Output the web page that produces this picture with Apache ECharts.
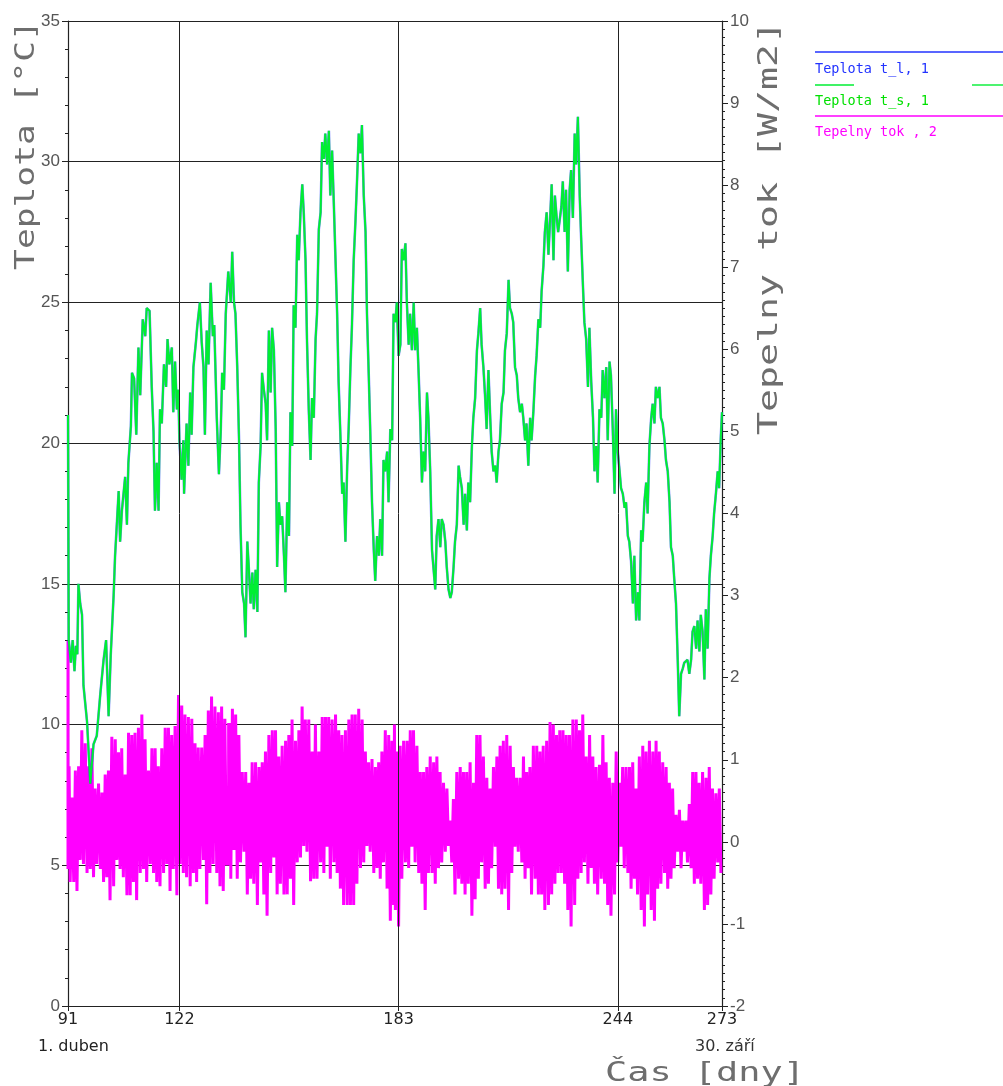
<!DOCTYPE html>
<html><head><meta charset="utf-8">
<script src="https://cdn.jsdelivr.net/npm/echarts@6/dist/echarts.min.js"></script>
<style>html,body{margin:0;padding:0;background:#fff}#c{width:1003px;height:1086px}</style>
</head><body><div id="c"></div>
<script>
// ---- Temperature (day of year, °C) ----
const tempDays = [
91.0,91.2,91.8,92.3,92.8,93.2,93.6,93.9,94.4,94.9,
95.3,96.3,97.2,98.1,99.0,100.0,100.9,101.6,102.3,102.9,
103.7,104.1,105.1,105.5,106.0,106.9,107.4,107.8,108.5,108.8,
109.4,110.0,110.6,111.1,111.8,112.5,112.9,113.7,114.3,114.8,
115.2,115.7,116.2,116.6,117.1,117.7,118.3,118.7,119.2,119.9,
120.3,120.8,121.3,121.7,122.0,122.6,123.1,123.3,124.0,124.5,
125.0,125.4,125.9,126.6,127.0,127.7,128.2,128.7,129.1,129.6,
130.1,130.7,131.3,131.7,132.4,133.0,133.5,133.9,134.4,134.9,
135.6,
136.3,136.7,137.2,137.6,138.1,138.6,139.0,139.5,140.0,140.4,
140.9,141.3,141.8,142.3,142.7,143.2,143.7,144.1,144.6,145.0,
145.5,146.0,146.4,146.9,147.4,147.8,148.3,148.8,149.2,149.7,
150.1,150.6,151.1,151.5,152.0,152.5,152.9,153.4,153.8,154.3,
154.8,155.2,155.7,156.2,156.6,157.1,157.5,158.0,158.5,158.9,
159.4,159.9,160.3,160.8,161.3,161.7,162.2,162.6,163.1,163.6,
164.0,164.5,165.0,165.4,165.9,166.3,166.8,167.3,167.7,168.2,
168.7,169.1,169.6,170.0,170.5,171.0,171.4,171.9,172.4,172.8,
173.3,173.8,174.2,174.7,175.1,175.6,176.1,176.5,177.0,177.5,
177.9,178.4,178.8,179.3,179.8,180.2,180.7,181.2,181.6,
182.1,182.5,183.0,183.5,183.9,184.4,184.9,185.3,185.8,186.2,
186.7,187.2,187.6,188.1,188.6,189.0,189.5,189.9,190.4,190.9,
191.3,191.8,192.3,192.7,193.2,193.6,194.1,194.6,195.0,195.5,
196.0,196.4,196.9,197.4,197.8,198.3,198.7,199.2,199.7,200.1,
200.6,201.1,201.5,202.0,202.4,202.9,203.4,203.8,204.3,204.8,
205.2,205.7,206.1,206.6,207.1,207.5,208.0,208.5,208.9,209.4,
209.9,210.3,210.8,211.2,211.7,212.2,212.6,213.1,213.6,214.0,
214.5,214.9,215.4,215.9,216.3,216.8,217.3,217.7,218.2,218.6,
219.1,219.6,220.0,220.5,221.0,221.4,221.9,222.4,222.8,223.3,
223.7,224.2,224.7,225.1,225.6,226.1,226.5,227.0,227.4,
227.8,228.3,228.7,229.2,229.6,230.1,230.6,231.0,231.5,232.0,
232.4,232.9,233.4,233.8,234.3,234.7,235.2,235.7,236.1,236.6,
237.1,237.5,238.0,238.4,238.9,239.4,239.8,240.3,240.8,241.2,
241.7,242.1,242.6,243.1,243.5,244.0,244.5,244.9,245.4,245.9,
246.3,246.8,247.2,247.7,248.2,248.6,249.1,249.6,250.0,250.5,
250.9,251.4,251.9,252.3,252.8,253.3,253.7,254.2,254.6,255.1,
255.6,256.0,256.5,257.0,257.4,257.9,258.4,258.8,259.3,259.7,
260.2,260.7,261.1,261.6,262.1,262.5,263.0,263.4,263.9,264.4,
264.8,265.3,265.8,266.2,266.7,267.1,267.6,268.1,268.5,269.0,
269.5,269.9,270.4,270.8,271.3,271.8,272.2,272.7,273.0
];
const tempTl = [
21.0,13.0,12.2,13.0,11.9,12.8,12.5,15.0,14.3,13.9,
11.4,10.1,7.9,9.3,9.6,11.1,12.3,13.0,10.3,12.5,
14.6,16.0,18.3,16.5,17.6,18.8,17.1,19.3,20.6,22.5,
22.3,20.3,23.4,21.7,24.4,23.8,24.8,24.7,22.0,20.4,
17.6,19.3,17.6,21.2,20.7,22.8,22.0,23.7,22.8,23.4,
21.1,22.9,21.2,21.9,20.1,18.7,20.1,18.2,20.7,19.2,
21.8,20.3,22.7,23.6,24.2,25.0,23.6,22.7,20.3,24.0,
22.8,25.7,23.8,24.2,20.9,18.9,20.4,22.5,21.9,24.6,
26.1,
25.0,26.8,25.0,24.6,22.7,20.1,17.1,14.7,14.3,13.1,
16.5,15.6,14.3,15.4,14.1,15.5,14.0,18.6,19.9,22.5,
21.9,21.4,20.1,24.0,21.8,24.1,23.3,20.5,15.6,17.9,
17.1,17.4,16.0,14.7,17.9,16.7,21.1,19.9,24.9,24.1,
27.4,26.5,28.2,29.2,28.2,26.5,23.7,21.2,19.4,21.6,
20.9,23.7,24.6,27.6,28.2,30.7,30.1,31.0,29.9,31.1,
28.8,30.4,28.4,26.7,24.6,22.2,20.3,18.2,18.6,16.5,
19.2,20.5,22.7,24.1,26.5,27.9,29.2,31.0,30.3,31.3,
28.8,27.5,24.6,22.4,20.5,17.9,16.2,15.1,16.7,16.0,
17.3,16.0,19.4,19.0,19.7,17.9,20.5,20.1,24.6,
24.3,25.0,23.1,23.5,26.9,26.5,27.1,25.0,23.5,24.6,
23.3,25.0,23.3,24.1,22.4,20.9,18.6,19.7,19.0,21.8,
20.9,19.0,16.2,16.2,14.8,16.7,17.3,16.3,17.3,17.1,
16.5,15.6,14.8,14.5,14.7,15.6,16.5,17.1,19.2,18.8,
18.4,17.1,18.2,16.9,18.6,17.9,19.9,20.9,21.6,23.3,
23.9,24.8,23.5,22.7,21.6,20.5,22.6,20.9,19.7,19.0,
19.2,18.6,19.7,20.1,21.4,21.8,23.3,23.9,25.8,24.8,
24.6,24.3,22.7,22.4,21.6,21.1,21.4,20.9,20.1,20.7,
19.2,20.9,20.1,21.1,22.4,23.1,24.4,24.1,25.4,26.3,
27.5,28.2,26.7,27.8,29.2,26.5,28.8,28.0,27.5,
27.5,28.4,29.3,27.5,29.0,26.1,29.0,29.7,28.0,31.0,
29.9,31.6,28.8,27.3,25.6,24.3,23.7,22.0,24.1,22.2,
20.9,19.0,19.9,18.6,21.2,20.9,22.6,21.6,22.7,20.1,
22.9,22.4,20.5,18.2,21.2,19.7,19.0,18.4,18.2,17.7,
17.9,16.7,16.5,15.8,14.3,16.0,13.7,14.7,13.7,16.9,
16.5,17.9,18.6,17.5,19.9,20.9,21.4,20.7,22.0,21.6,
22.0,20.9,20.7,20.1,19.4,19.0,17.9,16.3,16.0,15.2,
14.3,12.2,10.3,11.8,12.0,12.2,12.2,12.3,11.8,12.3,
13.3,13.5,12.7,13.7,12.6,13.9,13.3,11.6,14.1,12.7,
15.2,16.0,16.7,17.5,18.2,19.0,18.4,20.3,21.1
];
// t_s follows t_l almost exactly in the picture (the two curves overlap)
const tempTs = tempTl;

// ---- Heat flux (W/m2): daytime high and night-time low per day ----
const fluxDays = [
91.0,91.6,92.6,93.5,94.4,95.3,96.3,97.2,98.1,99.0,
100.0,100.9,101.8,102.7,103.7,104.6,105.5,106.4,107.4,108.3,
109.2,110.1,111.1,112.0,112.9,113.9,114.8,115.7,116.6,117.6,
118.5,119.4,120.3,121.3,122.2,123.1,124.0,125.0,125.9,126.8,
127.7,128.7,129.6,130.5,131.4,132.4,133.3,134.2,135.1,
136.3,137.2,138.1,139.0,140.0,140.9,141.8,142.7,143.7,144.6,
145.5,146.4,147.4,148.3,149.2,150.1,151.1,152.0,152.9,153.8,
154.8,155.7,156.6,157.5,158.5,159.4,160.3,161.3,162.2,163.1,
164.0,165.0,165.9,166.8,167.7,168.7,169.6,170.5,171.4,172.4,
173.3,174.2,175.1,176.1,177.0,177.9,178.8,179.8,180.7,181.6,
182.1,183.0,183.9,184.9,185.8,186.7,187.6,188.6,189.5,190.4,
191.3,192.3,193.2,194.1,195.0,196.0,196.9,197.8,198.7,199.7,
200.6,201.5,202.4,203.4,204.3,205.2,206.1,207.1,208.0,208.9,
209.9,210.8,211.7,212.6,213.6,214.5,215.4,216.3,217.3,218.2,
219.1,220.0,221.0,221.9,222.8,223.7,224.7,225.6,226.5,227.4,
228.3,229.2,230.1,231.0,232.0,232.9,233.8,234.7,235.7,236.6,
237.5,238.4,239.4,240.3,241.2,242.1,243.1,244.0,244.9,245.8,
246.8,247.7,248.6,249.5,250.5,251.4,252.3,253.3,254.2,255.1,
256.0,257.0,257.9,258.8,259.7,260.7,261.6,262.5,263.4,264.4,
265.3,266.2,267.1,268.1,269.0,269.9,270.8,271.8,272.7
];
const fluxHigh = [
2.45,0.92,0.54,0.87,0.92,1.36,1.20,0.92,1.14,0.65,
0.71,0.60,0.82,0.87,1.28,1.25,1.09,1.14,0.82,1.33,
1.30,1.33,1.39,1.55,1.25,0.87,1.14,1.14,0.92,1.14,
1.39,1.39,1.30,1.41,1.79,1.66,1.55,1.52,1.50,1.20,
1.15,1.15,1.30,1.60,1.77,1.65,1.58,1.65,1.50,
1.43,1.62,1.55,1.30,0.85,0.85,0.72,0.97,0.97,0.91,
0.97,1.10,1.30,1.36,1.36,1.04,1.17,1.23,1.30,1.49,
1.23,1.36,1.65,1.49,1.49,1.10,1.43,1.10,1.52,1.52,
1.52,1.49,1.55,1.36,1.30,1.36,1.49,1.55,1.55,1.62,
1.49,1.10,0.97,1.01,0.91,0.97,1.10,1.36,1.30,1.23,
1.43,1.10,1.17,1.23,1.23,1.36,1.36,1.17,0.85,0.85,
0.91,1.04,0.97,1.04,0.85,0.72,0.65,0.26,0.52,0.85,
0.91,0.85,0.85,0.97,0.72,1.30,1.30,1.04,0.78,0.65,
0.91,1.04,1.17,1.23,1.30,1.17,0.91,0.78,0.78,1.04,
0.85,0.91,1.17,1.17,1.10,1.17,1.23,1.46,1.43,1.30,
1.36,1.36,1.30,1.30,1.49,1.49,1.36,1.55,1.04,1.30,
1.04,0.91,0.94,1.30,0.97,0.78,0.72,1.10,0.72,0.91,
0.91,0.91,0.97,0.65,1.04,1.17,1.10,1.23,1.10,1.23,
1.10,0.97,0.91,0.72,0.65,0.33,0.39,0.26,0.26,0.46,
0.85,0.85,0.72,0.85,0.78,0.91,0.65,0.59,0.65
];
const fluxLow = [
-0.33,-0.49,-0.49,-0.60,-0.22,-0.27,-0.38,-0.33,-0.43,-0.27,
-0.33,-0.49,-0.43,-0.71,-0.54,-0.22,-0.33,-0.43,-0.65,-0.65,
-0.49,-0.71,-0.38,-0.33,-0.49,-0.27,-0.38,-0.49,-0.54,-0.38,
-0.27,-0.60,-0.33,-0.65,-0.27,-0.38,-0.43,-0.54,-0.38,-0.49,
-0.33,-0.22,-0.76,-0.38,-0.27,-0.38,-0.54,-0.60,-0.27,
-0.45,-0.10,-0.45,-0.25,-0.12,-0.64,-0.45,-0.51,-0.77,-0.25,
-0.64,-0.90,-0.38,-0.19,-0.64,-0.51,-0.64,-0.64,-0.45,-0.77,
-0.25,-0.19,-0.05,-0.12,-0.48,-0.45,-0.45,-0.25,-0.38,-0.06,
-0.45,-0.25,-0.38,-0.57,-0.77,-0.77,-0.77,-0.77,-0.51,-0.32,
-0.25,-0.05,-0.12,-0.38,-0.32,-0.45,-0.25,-0.57,-0.96,-0.77,
-0.83,-1.03,-0.45,-0.25,-0.32,-0.06,-0.25,-0.38,-0.51,-0.83,
-0.38,-0.38,-0.51,-0.32,-0.25,-0.12,-0.05,-0.25,-0.64,-0.45,
-0.51,-0.64,-0.51,-0.90,-0.70,-0.45,-0.25,-0.57,-0.51,-0.32,
-0.06,-0.57,-0.64,-0.57,-0.83,-0.38,-0.06,-0.12,-0.25,-0.45,
-0.32,-0.64,-0.45,-0.64,-0.64,-0.83,-0.77,-0.64,-0.51,-0.38,
-0.38,-0.51,-0.83,-1.03,-0.77,-0.45,-0.38,-0.25,-0.51,-0.32,
-0.51,-0.64,-0.45,-0.51,-0.77,-0.90,-0.64,-0.25,-0.06,-0.32,
-0.38,-0.57,-0.45,-0.64,-0.83,-1.03,-0.64,-0.83,-0.96,-0.57,
-0.51,-0.38,-0.57,-0.45,-0.32,-0.12,-0.32,-0.12,-0.25,-0.32,
-0.51,-0.45,-0.51,-0.83,-0.77,-0.64,-0.45,-0.25,-0.38
];

// ---- Axes / texts ----
const xTickDays = [91, 122, 183, 244, 273];
const xGridDays = [122, 183, 244];
const xEndLabels = ['1. duben', '30. září'];
const seriesNames = ['Teplota t_l, 1', 'Teplota t_s, 1', 'Tepelny tok , 2'];
const leftAxisTitle = 'Teplota [°C]';
const rightAxisTitle = 'Tepelny tok [W/m2]';
const xAxisTitle = 'Čas [dny]';

const zip = (xs, ys) => xs.map((x, i) => [x, ys[i]]);
const fluxData = [];
fluxDays.forEach((d, i) => { fluxData.push([d, fluxHigh[i]]); fluxData.push([d, fluxLow[i]]); });

const C_BLUE = '#2233ff', C_GREEN = '#00ee33', C_MAG = '#ff00ff';
const titleFont = 'DejaVu Sans Mono';

const chart = echarts.init(document.getElementById('c'), null, {renderer: 'canvas'});
chart.setOption({
  animation: false,
  backgroundColor: '#fff',
  grid: {left: 68, right: 281, top: 21, bottom: 80, containLabel: false},
  xAxis: {
    type: 'value', min: 91, max: 273,
    axisLine: {show: true, lineStyle: {color: '#222', width: 1}},
    axisTick: {show: true, customValues: xTickDays, length: 5, lineStyle: {color: '#222'}},
    axisLabel: {customValues: xTickDays, color: '#222', fontSize: 16, fontFamily: 'DejaVu Sans', margin: 6},
    splitLine: {show: false}
  },
  yAxis: [
    {
      type: 'value', min: 0, max: 35, interval: 5, position: 'left',
      axisLine: {show: true, lineStyle: {color: '#222', width: 1.2}},
      axisTick: {show: true, length: 6, lineStyle: {color: '#222'}},
      minorTick: {show: true, splitNumber: 5, length: 3, lineStyle: {color: '#222'}},
      axisLabel: {color: '#555', fontSize: 17, fontFamily: 'Liberation Sans', margin: 8},
      splitLine: {show: true, lineStyle: {color: '#222', width: 1}}
    },
    {
      type: 'value', min: -2, max: 10, interval: 1, position: 'right',
      axisLine: {show: true, lineStyle: {color: '#222', width: 1.2}},
      axisTick: {show: true, length: 6, lineStyle: {color: '#222'}},
      minorTick: {show: true, splitNumber: 10, length: 3, lineStyle: {color: '#222'}},
      axisLabel: {color: '#555', fontSize: 17, fontFamily: 'Liberation Sans', margin: 8},
      splitLine: {show: false}
    }
  ],
  series: [
    {
      name: seriesNames[2], type: 'line', yAxisIndex: 1, data: fluxData,
      step: 'middle', symbol: 'none', lineStyle: {color: C_MAG, width: 3, join: 'miter', cap: 'butt'},
      markLine: {
        silent: true, symbol: ['none', 'none'], label: {show: false},
        lineStyle: {color: '#222', width: 1, type: 'solid'},
        data: xGridDays.map(d => ({xAxis: d}))
      }
    },
    {
      name: seriesNames[0], type: 'line', yAxisIndex: 0, data: zip(tempDays, tempTl),
      symbol: 'none', lineStyle: {color: C_BLUE, width: 2.6, opacity: 0.6}
    },
    {
      name: seriesNames[1], type: 'line', yAxisIndex: 0, data: zip(tempDays, tempTs),
      symbol: 'none', lineStyle: {color: C_GREEN, width: 2}
    }
  ],
  graphic: [
    {type: 'text', x: 27, y: 145, rotation: Math.PI / 2, scaleX: 1.33,
     style: {text: leftAxisTitle, fontFamily: titleFont, fontSize: 26, fill: '#6e6e6e', textAlign: 'center', textVerticalAlign: 'middle'}},
    {type: 'text', x: 770, y: 228, rotation: Math.PI / 2, scaleX: 1.47,
     style: {text: rightAxisTitle, fontFamily: titleFont, fontSize: 26, fill: '#6e6e6e', textAlign: 'center', textVerticalAlign: 'middle'}},
    {type: 'text', x: 705, y: 1074, scaleX: 1.42,
     style: {text: xAxisTitle, fontFamily: titleFont, fontSize: 26, fill: '#6e6e6e', textAlign: 'center', textVerticalAlign: 'middle'}},
    {type: 'text', x: 38, y: 1047,
     style: {text: xEndLabels[0], fontFamily: 'DejaVu Sans', fontSize: 16, fill: '#222', textAlign: 'left', textVerticalAlign: 'middle'}},
    {type: 'text', x: 695, y: 1047,
     style: {text: xEndLabels[1], fontFamily: 'DejaVu Sans', fontSize: 16, fill: '#333', textAlign: 'left', textVerticalAlign: 'middle'}},
    // legend
    {type: 'line', shape: {x1: 815, y1: 52, x2: 1003, y2: 52}, style: {stroke: C_BLUE, lineWidth: 1.4}},
    {type: 'text', x: 815, y: 69, style: {text: seriesNames[0], fontFamily: titleFont, fontSize: 13.5, fill: C_BLUE, textVerticalAlign: 'middle'}},
    {type: 'line', shape: {x1: 815, y1: 85, x2: 854, y2: 85}, style: {stroke: C_GREEN, lineWidth: 1.4}},
    {type: 'line', shape: {x1: 972, y1: 85, x2: 1003, y2: 85}, style: {stroke: C_GREEN, lineWidth: 1.4}},
    {type: 'text', x: 815, y: 101, style: {text: seriesNames[1], fontFamily: titleFont, fontSize: 13.5, fill: '#00e000', textVerticalAlign: 'middle'}},
    {type: 'line', shape: {x1: 815, y1: 116, x2: 1003, y2: 116}, style: {stroke: C_MAG, lineWidth: 1.4}},
    {type: 'text', x: 815, y: 132, style: {text: seriesNames[2], fontFamily: titleFont, fontSize: 13.5, fill: C_MAG, textVerticalAlign: 'middle'}}
  ]
});
</script>
</body></html>
